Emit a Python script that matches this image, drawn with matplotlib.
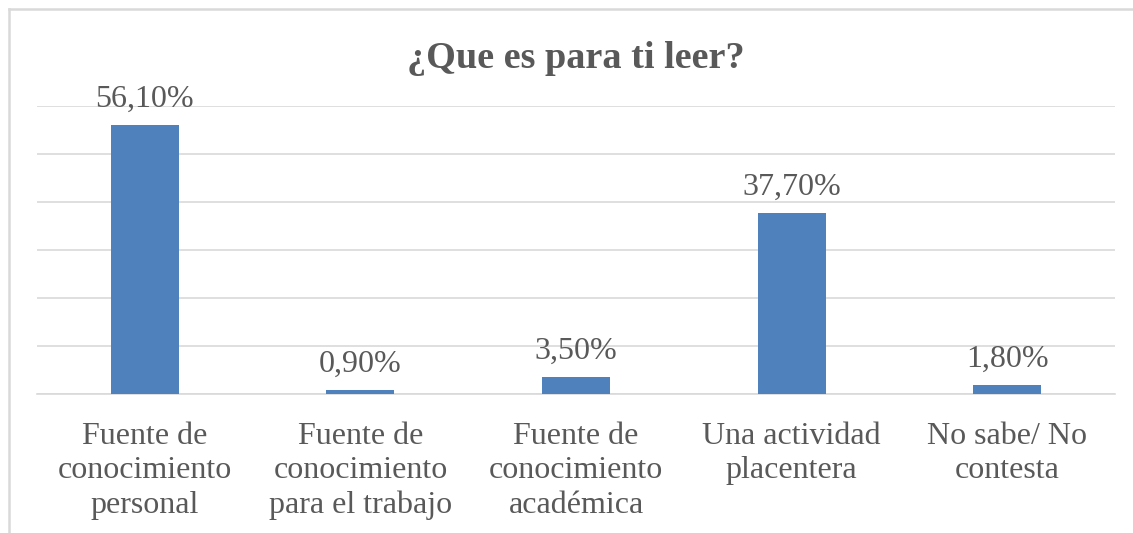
import matplotlib.pyplot as plt
from matplotlib.lines import Line2D

categories = ["Fuente de\nconocimiento\npersonal",
              "Fuente de\nconocimiento\npara el trabajo",
              "Fuente de\nconocimiento\nacadémica",
              "Una actividad\nplacentera",
              "No sabe/ No\ncontesta"]
values = [56.1, 0.9, 3.5, 37.7, 1.8]
labels = ["56,10%", "0,90%", "3,50%", "37,70%", "1,80%"]

plt.rcParams['font.family'] = ['Liberation Serif', 'DejaVu Serif']
txt = '#595959'
grid = '#D9D9D9'

fig = plt.figure(figsize=(11.33, 5.33), dpi=100)
# chart border: only top and left edges are inside the picture
bx, by = 8.5 / 1133, 1 - 8.5 / 533
fig.add_artist(Line2D([bx, 1], [by, by], transform=fig.transFigure,
                      color=grid, lw=1.8))
fig.add_artist(Line2D([bx, bx], [0, by], transform=fig.transFigure,
                      color=grid, lw=1.8))

ax = fig.add_axes([37 / 1133, 139 / 533, 1078 / 1133, 288 / 533])
x = range(len(values))
bars = ax.bar(x, values, width=0.315, color='#4F81BD', zorder=3)
ax.set_xlim(-0.5, len(values) - 0.5)
ax.set_ylim(0, 60)
ax.set_yticks(range(0, 61, 10))
ax.yaxis.grid(True, color=grid, lw=1.2, zorder=0)
ax.tick_params(axis='y', left=False, labelleft=False)
ax.tick_params(axis='x', length=0, pad=20, labelsize=23, labelcolor=txt)
ax.set_xticks(list(x))
ax.set_xticklabels(categories, linespacing=1.25)
for s in ['top', 'right', 'left']:
    ax.spines[s].set_visible(False)
ax.spines['bottom'].set_color(grid)
ax.spines['bottom'].set_linewidth(1.2)

for b, lab in zip(bars, labels):
    ax.annotate(lab, (b.get_x() + b.get_width() / 2, b.get_height()),
                xytext=(0, 8), textcoords='offset points',
                ha='center', va='bottom', fontsize=23, color=txt)

fig.text(576 / 1133, 1 - 68 / 533, "¿Que es para ti leer?", ha='center',
         va='baseline', fontsize=27.5, fontweight='bold', color=txt)

fig.savefig('out.png', dpi=100)
